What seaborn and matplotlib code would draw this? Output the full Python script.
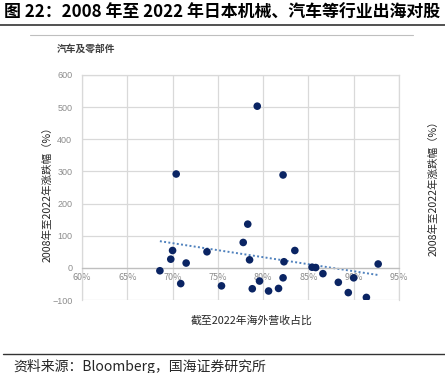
import numpy as np
import pandas as pd
import matplotlib.pyplot as plt
import seaborn as sns

# overseas revenue share (%) vs 2008-2022 price change (%)
overseas_share = [68.6, 69.8, 70.0, 70.4, 70.9, 71.5, 73.8, 75.4, 77.8, 78.3,
                  78.5, 78.8, 79.35, 79.6, 80.6, 81.7, 82.2, 82.2, 82.3, 83.5,
                  85.4, 85.8, 86.6, 88.3, 89.4, 90.0, 91.4, 92.7]
price_change = [-9, 27, 54, 292, -49, 15, 50, -56, 79, 136,
                25, -65, 503, -41, -72, -64, 289, -31, 19, 54,
                2, 1, -18, -45, -77, -31, -92, 12]
x_ticks = [60, 65, 70, 75, 80, 85, 90, 95]
y_ticks = [-100, 0, 100, 200, 300, 400, 500, 600]

df = pd.DataFrame({'share': overseas_share, 'chg': price_change})

sns.set_style('white')
plt.rcParams['font.family'] = ['Noto Sans CJK SC', 'DejaVu Sans']

fig = plt.figure(figsize=(4.45, 3.73), dpi=100)
ax = fig.add_axes([82 / 445, 1 - 300 / 373, 317 / 445, 225 / 373])

grid_c = '#d9d9d9'
sns.regplot(x='share', y='chg', data=df, scatter=False, ci=None, truncate=True,
            line_kws=dict(color='#4f81bd', lw=1.4, ls=(0, (1, 1.2))), ax=ax)
sns.scatterplot(x='share', y='chg', data=df, color='#0a2463', s=30,
                edgecolor='none', zorder=3, ax=ax)

ax.set_xlim(60, 95)
ax.set_ylim(-100, 600)
ax.set_xticks(x_ticks)
ax.set_yticks(y_ticks)
ax.set_xticklabels([f'{t}%' for t in x_ticks], family='Liberation Sans')
ax.set_yticklabels([f'{t}'.replace('-', '\u2212') for t in y_ticks], family='Liberation Sans')
ax.tick_params(axis='both', length=0, labelsize=6.5, labelcolor='#8c8c8c')
ax.tick_params(axis='x', pad=4)
ax.tick_params(axis='y', pad=7)
ax.grid(True, color=grid_c, lw=0.9)
ax.set_axisbelow(True)
for s in ax.spines.values():
    s.set_color(grid_c)
    s.set_linewidth(0.9)
ax.spines['bottom'].set_position(('data', 0))
ax.spines['bottom'].set_color('#bfbfbf')
ax.set_xlabel('')
ax.set_ylabel('')

# labels
fig.text(252 / 445, 1 - 321 / 373, '截至2022年海外营收占比', ha='center', va='center',
         fontsize=7.8, color='#262626')
fig.text(48 / 445, 1 - 192 / 373, '2008年至2022年涨跌幅（%）', ha='center', va='center',
         rotation=90, fontsize=7.6, color='#262626')
fig.text(433 / 445, 1 - 186 / 373, '2008年至2022年涨跌幅（%）', ha='center', va='center',
         rotation=90, fontsize=7.6, color='#262626')
fig.text(57 / 445, 1 - 49 / 373, '汽车及零部件', ha='left', va='center',
         fontsize=7, color='#404040', fontweight='bold')

# title and source
fig.text(4 / 445, 1 - 13 / 373, '图 22：2008 年至 2022 年日本机械、汽车等行业出海对股',
         ha='left', va='center', fontsize=12.2, fontweight='bold', color='black')
fig.add_artist(plt.Line2D([0, 1], [1 - 25 / 373] * 2, color='#333333', lw=1.2))
fig.add_artist(plt.Line2D([30 / 445, 413 / 445], [1 - 35 / 373] * 2, color='#bfbfbf', lw=0.8))
fig.add_artist(plt.Line2D([3 / 445, 1], [1 - 354 / 373] * 2, color='#333333', lw=1.0))
fig.text(13 / 445, 1 - 366 / 373, '资料来源：Bloomberg，国海证券研究所', ha='left', va='center',
         fontsize=10, color='#262626')

fig.savefig('out.png', dpi=100)
